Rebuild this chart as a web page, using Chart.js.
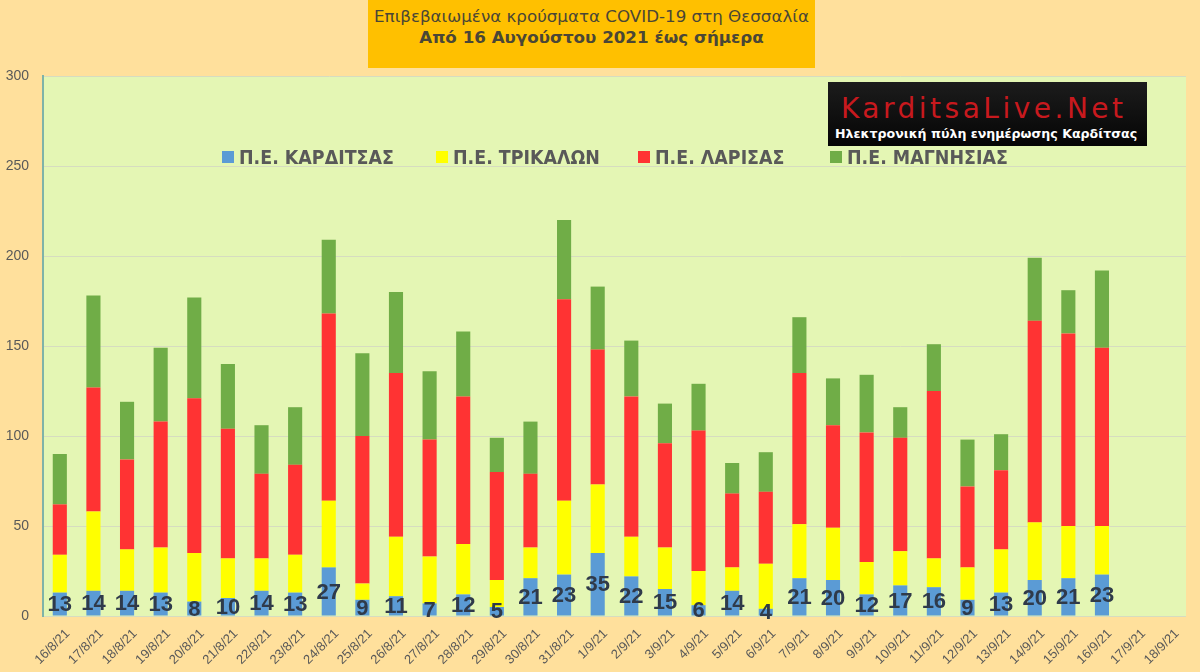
<!DOCTYPE html>
<html>
<head>
<meta charset="utf-8">
<title>COVID-19 Θεσσαλία</title>
<script src="https://cdn.jsdelivr.net/npm/chart.js@4.4.1/dist/chart.umd.min.js"></script>
<style>
  body { margin: 0; background: #FFE09C; }
  #wrap { position: relative; width: 1200px; height: 672px; overflow: hidden; background: #FFE09C; }
  #chart { position: absolute; left: 0; top: 0; }
  #title {
    position: absolute; left: 368px; top: 0; width: 447px; height: 68px;
    background: #FFC000; color: #4a4636; text-align: center;
    font-family: "DejaVu Sans", sans-serif; font-size: 16.7px; line-height: 21px;
    padding-top: 6px; box-sizing: border-box;
  }
  #title b { font-weight: bold; }
  #logo {
    position: absolute; left: 828px; top: 82px; width: 319px; height: 64px;
    background: linear-gradient(#1c1c1c, #050505); overflow: hidden;
  }
  #logo .big {
    position: absolute; left: 13px; top: 12px; color: #c8191e;
    font-family: "DejaVu Sans", sans-serif; font-size: 28px; letter-spacing: 3.5px; line-height: 30px;
  }
  #logo .small {
    position: absolute; left: 7px; top: 44px; color: #fff; white-space: nowrap;
    font-family: "DejaVu Sans", sans-serif; font-weight: bold; font-size: 12.6px; line-height: 16px;
  }
  #legend .item {
    position: absolute; top: 144px; height: 26px; display: flex; align-items: center;
    font-family: "DejaVu Sans Condensed", "DejaVu Sans", sans-serif; font-weight: bold;
    font-size: 19.4px; color: #595959; white-space: nowrap;
  }
  #legend .sw { width: 12px; height: 12px; margin-right: 5px; }
</style>
</head>
<body>
<div id="wrap">
  <canvas id="chart" width="1200" height="672"></canvas>
  <div id="title">Επιβεβαιωμένα κρούσματα COVID-19 στη Θεσσαλία<br><b>Από 16 Αυγούστου 2021 έως σήμερα</b></div>
  <div id="logo">
    <div class="big">KarditsaLive.Net</div>
    <div class="small">Ηλεκτρονική πύλη ενημέρωσης Καρδίτσας</div>
  </div>
  <div id="legend"></div>
</div>
<script>
// ημερομηνίες (άξονας Χ)
const dates = ["16/8/21", "17/8/21", "18/8/21", "19/8/21", "20/8/21", "21/8/21", "22/8/21", "23/8/21",
  "24/8/21", "25/8/21", "26/8/21", "27/8/21", "28/8/21", "29/8/21", "30/8/21", "31/8/21",
  "1/9/21", "2/9/21", "3/9/21", "4/9/21", "5/9/21", "6/9/21", "7/9/21", "8/9/21", "9/9/21",
  "10/9/21", "11/9/21", "12/9/21", "13/9/21", "14/9/21", "15/9/21", "16/9/21", "17/9/21", "18/9/21"];

const seriesNames = ["Π.Ε. ΚΑΡΔΙΤΣΑΣ", "Π.Ε. ΤΡΙΚΑΛΩΝ", "Π.Ε. ΛΑΡΙΣΑΣ", "Π.Ε. ΜΑΓΝΗΣΙΑΣ"];

const karditsa = [13, 14, 14, 13, 8, 10, 14, 13, 27, 9, 11, 7, 12, 5, 21, 23,
  35, 22, 15, 6, 14, 4, 21, 20, 12, 17, 16, 9, 13, 20, 21, 23];
const trikala = [21, 44, 23, 25, 27, 22, 18, 21, 37, 9, 33, 26, 28, 15, 17, 41,
  38, 22, 23, 19, 13, 25, 30, 29, 18, 19, 16, 18, 24, 32, 29, 27];
const larisa = [28, 69, 50, 70, 86, 72, 47, 50, 104, 82, 91, 65, 82, 60, 41, 112,
  75, 78, 58, 78, 41, 40, 84, 57, 72, 63, 93, 45, 44, 112, 107, 99];
const magnisia = [28, 51, 32, 41, 56, 36, 27, 32, 41, 46, 45, 38, 36, 19, 29, 44,
  35, 31, 22, 26, 17, 22, 31, 26, 32, 17, 26, 26, 20, 35, 24, 43];

const yTicks = [0, 50, 100, 150, 200, 250, 300];

const colors = ["#5B9BD5", "#FFFF00", "#FF3333", "#70AD47"];
const legendX = [222, 436, 638, 830];

// υπόμνημα
const legend = document.getElementById("legend");
seriesNames.forEach((name, i) => {
  const item = document.createElement("div");
  item.className = "item";
  item.style.left = legendX[i] + "px";
  item.innerHTML = '<span class="sw" style="background:' + colors[i] + '"></span>' + name;
  legend.appendChild(item);
});

// φόντο περιοχής γραφήματος
const plotBg = {
  id: "plotBg",
  beforeDraw(chart) {
    const { ctx, chartArea: a } = chart;
    ctx.save();
    ctx.fillStyle = "#E4F6B4";
    ctx.fillRect(a.left, a.top, a.right - a.left, a.bottom - a.top + 1);
    ctx.restore();
  },
};

// ετικέτες τιμών Καρδίτσας μέσα στη μπλε μπάρα
const blueLabels = {
  id: "blueLabels",
  afterDatasetsDraw(chart) {
    const ctx = chart.ctx;
    const meta = chart.getDatasetMeta(0);
    ctx.save();
    ctx.font = "bold 22px 'Liberation Sans', Arial, sans-serif";
    ctx.fillStyle = "#2F3A4A";
    ctx.textAlign = "center";
    ctx.textBaseline = "middle";
    meta.data.forEach((bar, i) => {
      const v = karditsa[i];
      if (v == null) return;
      ctx.fillText(String(v), bar.x, (bar.y + bar.base) / 2 + 1);
    });
    ctx.restore();
  },
};

const datasets = [karditsa, trikala, larisa, magnisia].map((d, i) => ({
  label: seriesNames[i],
  data: d,
  backgroundColor: colors[i],
  borderWidth: 0,
  barPercentage: 0.84,
  categoryPercentage: 0.5,
}));

new Chart(document.getElementById("chart"), {
  type: "bar",
  data: { labels: dates, datasets: datasets },
  options: {
    responsive: false,
    animation: false,
    devicePixelRatio: 1,
    layout: { padding: { top: 76, right: 14, left: 0, bottom: 0 } },
    plugins: { legend: { display: false }, tooltip: { enabled: false } },
    scales: {
      x: {
        stacked: true,
        grid: { display: false },
        border: { display: false },
        ticks: {
          autoSkip: false,
          minRotation: 45,
          maxRotation: 45,
          labelOffset: 8,
          color: "#595959",
          padding: 2,
          font: { size: 13, family: "'Liberation Sans', Arial, sans-serif" },
        },
        afterFit: (s) => { s.height = 56; },
      },
      y: {
        stacked: true,
        min: 0,
        max: 300,
        afterBuildTicks: (s) => { s.ticks = yTicks.map((v) => ({ value: v })); },
        ticks: {
          color: "#595959",
          padding: 14,
          font: { size: 14, family: "'Liberation Sans', Arial, sans-serif" },
        },
        grid: { color: "#D6DCC0", drawTicks: false },
        border: { color: "#7FB3A8", width: 2 },
        afterFit: (s) => { s.width = 43; },
      },
    },
  },
  plugins: [plotBg, blueLabels],
});
</script>
</body>
</html>
